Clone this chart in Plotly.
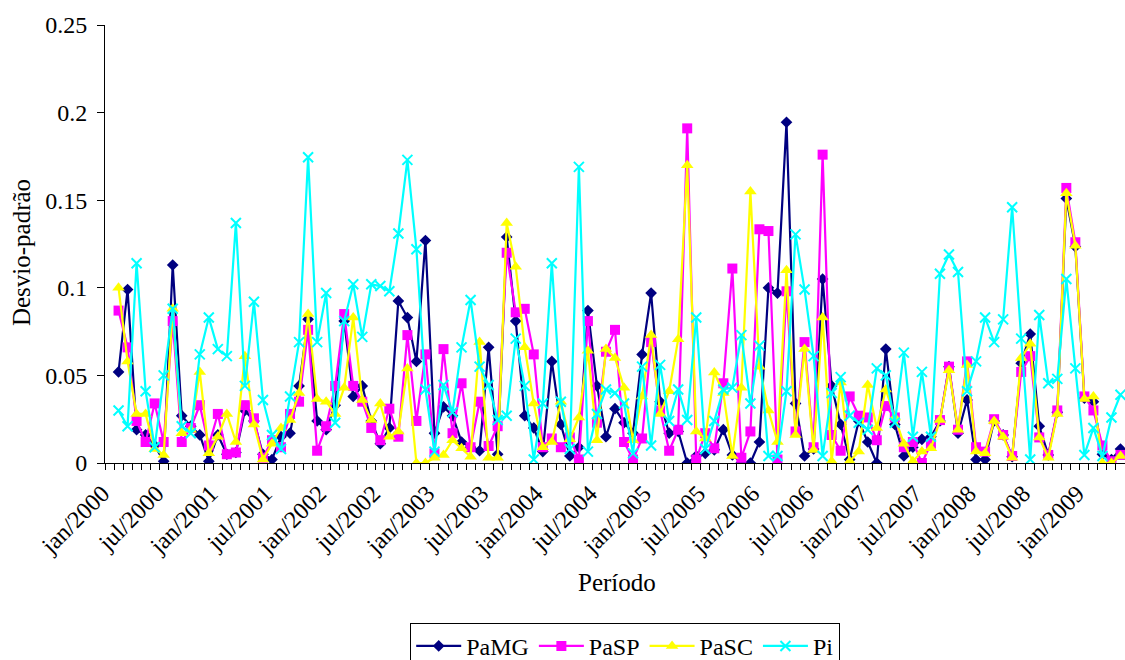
import plotly.graph_objects as go

# Monthly categories jan/2000 .. mai/2009
months_pt = ["jan", "fev", "mar", "abr", "mai", "jun", "jul", "ago", "set", "out", "nov", "dez"]
periods = [f"{months_pt[i % 12]}/{2000 + i // 12}" for i in range(113)]

# Standard deviation per month (first month has no value)
pamg = [None,
        0.052, 0.099, 0.019, 0.016, 0.010, 0.001, 0.113, 0.027, 0.021, 0.016, 0.001, 0.016,
        0.005, 0.006, 0.030, 0.024, 0.005, 0.002, 0.015, 0.017, 0.044, 0.082, 0.024, 0.019,
        0.033, 0.081, 0.038, 0.044, 0.024, 0.011, 0.020, 0.0925, 0.083, 0.058, 0.127, 0.017,
        0.032, 0.027, 0.012, 0.009, 0.007, 0.066, 0.005, 0.129, 0.081, 0.027, 0.020, 0.0065,
        0.058, 0.022, 0.004, 0.009, 0.087, 0.044, 0.015, 0.031, 0.023, 0.017, 0.062, 0.097,
        0.035, 0.017, 0.018, 0.000, 0.004, 0.0055, 0.0075, 0.019, 0.0046, 0.0002, 0.000, 0.012,
        0.100, 0.097, 0.1945, 0.034, 0.004, 0.008, 0.105, 0.044, 0.022, 0.002, 0.024, 0.012,
        0.000, 0.065, 0.022, 0.004, 0.009, 0.0135, 0.015, 0.024, 0.055, 0.017, 0.036, 0.002,
        0.002, 0.024, 0.016, 0.0036, 0.057, 0.0736, 0.021, 0.0046, 0.029, 0.151, 0.1235, 0.037,
        0.035, 0.005, 0.002, 0.008]

pasp = [None,
        0.087, 0.066, 0.024, 0.012, 0.034, 0.012, 0.081, 0.012, 0.020, 0.033, 0.010, 0.028,
        0.005, 0.006, 0.033, 0.0255, 0.003, 0.013, 0.009, 0.028, 0.035, 0.076, 0.007, 0.021,
        0.044, 0.085, 0.044, 0.035, 0.020, 0.013, 0.031, 0.015, 0.073, 0.024, 0.062, 0.0055,
        0.065, 0.017, 0.0455, 0.009, 0.035, 0.0097, 0.021, 0.120, 0.086, 0.088, 0.062, 0.009,
        0.014, 0.009, 0.0146, 0.002, 0.081, 0.023, 0.0635, 0.076, 0.012, 0.002, 0.014, 0.069,
        0.030, 0.007, 0.019, 0.191, 0.002, 0.017, 0.0084, 0.0455, 0.111, 0.003, 0.018, 0.1334,
        0.1324, 0.002, 0.098, 0.018, 0.069, 0.009, 0.176, 0.016, 0.007, 0.038, 0.027, 0.026,
        0.013, 0.0325, 0.026, 0.009, 0.012, 0.000, 0.011, 0.0245, 0.055, 0.019, 0.058, 0.009,
        0.0065, 0.025, 0.016, 0.004, 0.052, 0.061, 0.0146, 0.0046, 0.030, 0.157, 0.126, 0.038,
        0.030, 0.010, 0.001, 0.0046]

pasc = [None,
        0.100, 0.058, 0.028, 0.028, 0.008, 0.0046, 0.088, 0.017, 0.019, 0.052, 0.0055, 0.015,
        0.028, 0.012, 0.061, 0.022, 0.002, 0.011, 0.020, 0.0245, 0.040, 0.085, 0.0365, 0.035,
        0.028, 0.043, 0.083, 0.036, 0.0245, 0.034, 0.015, 0.018, 0.054, 0.000, 0.000, 0.003,
        0.0046, 0.013, 0.0084, 0.0036, 0.069, 0.003, 0.003, 0.137, 0.112, 0.066, 0.034, 0.009,
        0.012, 0.035, 0.0135, 0.026, 0.064, 0.013, 0.065, 0.060, 0.043, 0.013, 0.038, 0.073,
        0.028, 0.041, 0.0706, 0.170, 0.018, 0.014, 0.0516, 0.040, 0.004, 0.043, 0.155, 0.055,
        0.030, 0.012, 0.110, 0.016, 0.065, 0.0074, 0.083, 0.001, 0.046, 0.001, 0.0065, 0.0445,
        0.020, 0.042, 0.026, 0.011, 0.001, 0.0065, 0.0084, 0.0245, 0.053, 0.019, 0.056, 0.0065,
        0.0055, 0.024, 0.015, 0.003, 0.060, 0.068, 0.0146, 0.003, 0.028, 0.154, 0.124, 0.0365,
        0.038, 0.000, 0.000, 0.004]

pi = [None,
      0.030, 0.021, 0.114, 0.041, 0.009, 0.050, 0.088, 0.021, 0.017, 0.062, 0.083, 0.065,
      0.061, 0.137, 0.044, 0.092, 0.036, 0.016, 0.008, 0.038, 0.069, 0.1745, 0.069, 0.097,
      0.023, 0.081, 0.102, 0.072, 0.102, 0.101, 0.098, 0.131, 0.173, 0.122, 0.042, 0.0065,
      0.0445, 0.029, 0.066, 0.093, 0.055, 0.0445, 0.0245, 0.027, 0.071, 0.044, 0.002, 0.034,
      0.114, 0.035, 0.008, 0.169, 0.0065, 0.028, 0.042, 0.040, 0.034, 0.0055, 0.055, 0.010,
      0.056, 0.024, 0.042, 0.0245, 0.083, 0.008, 0.024, 0.042, 0.043, 0.073, 0.034, 0.067,
      0.004, 0.004, 0.041, 0.1305, 0.099, 0.061, 0.004, 0.040, 0.049, 0.027, 0.023, 0.019,
      0.054, 0.050, 0.023, 0.063, 0.015, 0.052, 0.015, 0.108, 0.119, 0.109, 0.041, 0.058,
      0.083, 0.069, 0.082, 0.146, 0.071, 0.002, 0.0845, 0.0455, 0.048, 0.105, 0.054, 0.0046,
      0.020, 0.004, 0.026, 0.039]

# Labels every six months
label_idx = list(range(0, 113, 6))
label_txt = [periods[i] for i in label_idx]

x = list(range(len(periods)))

FONT = "Liberation Serif"

series = [
    ("PaMG", pamg, "#000080", dict(symbol="diamond", size=9, color="#000080")),
    ("PaSP", pasp, "#FF00FF", dict(symbol="square", size=10, color="#FF00FF")),
    ("PaSC", pasc, "#FFFF00", dict(symbol="triangle-up", size=11, color="#FFFF00")),
    ("Pi", pi, "#00FFFF", dict(symbol="x-thin", size=10, color="#00FFFF",
                               line=dict(color="#00FFFF", width=2))),
]

fig = go.Figure()
for name, vals, col, mk in series:
    fig.add_trace(go.Scatter(
        x=x, y=vals, name=name, mode="lines+markers",
        line=dict(color=col, width=2.2), marker=mk,
        connectgaps=False, customdata=periods,
        hovertemplate="%{customdata}: %{y}<extra>" + name + "</extra>",
    ))

fig.update_layout(
    width=1125, height=660,
    margin=dict(l=105, r=0, t=25, b=197, autoexpand=False),
    paper_bgcolor="white", plot_bgcolor="white",
    font=dict(family=FONT, size=24, color="black"),
    showlegend=True,
    legend=dict(
        orientation="h", x=0.51, xanchor="center", y=-0.365, yanchor="top",
        bordercolor="black", borderwidth=1, font=dict(size=24, family=FONT),
        itemwidth=45, tracegroupgap=0,
    ),
    annotations=[
        dict(text="Período", x=0.502, y=-0.272, xref="paper", yref="paper",
             showarrow=False, font=dict(size=25, family=FONT), yanchor="middle"),
        dict(text="Desvio-padrão", x=-0.082, y=0.48, xref="paper", yref="paper",
             showarrow=False, textangle=-90, font=dict(size=25, family=FONT),
             xanchor="center", yanchor="middle"),
    ],
)

fig.update_xaxes(
    range=[-0.5, 112.5], showgrid=False, zeroline=False, automargin=False,
    showline=True, linecolor="black", linewidth=1,
    tickmode="array", tickvals=label_idx, ticktext=label_txt, tickangle=-45,
    ticks="outside", ticklen=6, tickcolor="rgba(0,0,0,0)", ticklabelshift=-7,
    tickfont=dict(size=24, family=FONT),
    minor=dict(tickmode="linear", tick0=-0.5, dtick=1, ticks="outside",
               ticklen=6, tickcolor="black", showgrid=False),
)
fig.update_yaxes(
    range=[0, 0.25], dtick=0.05, showgrid=False, zeroline=False, automargin=False,
    showline=True, linecolor="black", linewidth=1,
    ticks="outside", ticklen=7, tickcolor="black", ticklabelstandoff=5,
    tickfont=dict(size=24, family=FONT),
)

fig.write_html("out.html")
